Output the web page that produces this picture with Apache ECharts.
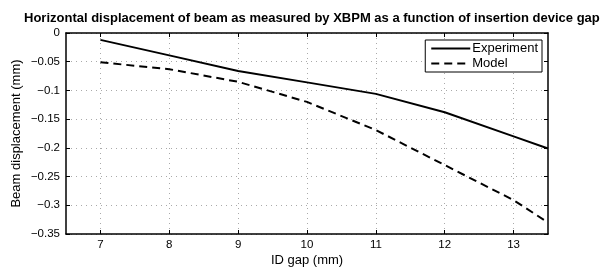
<!DOCTYPE html>
<html>
<head>
<meta charset="utf-8">
<script src="https://cdn.jsdelivr.net/npm/echarts@6/dist/echarts.min.js"></script>
<style>
  html, body { margin: 0; padding: 0; background: #fff; }
  #chart { width: 600px; height: 267px; }
</style>
</head>
<body>
<div id="chart"></div>
<script>
// data
var gaps = [7, 8, 9, 10, 11, 12, 13, 13.5];
var experiment = [-0.012, -0.039, -0.066, -0.086, -0.106, -0.138, -0.180, -0.201];
var model = [-0.051, -0.063, -0.085, -0.120, -0.169, -0.230, -0.291, -0.330];
var xTicks = [7, 8, 9, 10, 11, 12, 13];

var font = 'Liberation Sans, Arial, sans-serif';

function pairs(xs, ys) {
  var out = [];
  for (var i = 0; i < xs.length; i++) out.push([xs[i], ys[i]]);
  return out;
}

function fmtY(v) {
  var s = String(Math.round(v * 100) / 100);
  return s.replace('-', '\u2212');
}

var myChart = echarts.init(document.getElementById('chart'));

var xBase = {
  type: 'value',
  min: 6.5,
  max: 13.5,
  axisLine: { show: true, onZero: false, lineStyle: { color: '#000', width: 1.5 } },
  axisTick: { show: true, inside: true, length: 4, customValues: xTicks, lineStyle: { color: '#000' } },
  splitLine: { show: false }
};

var yBase = {
  type: 'value',
  min: -0.35,
  max: 0,
  interval: 0.05,
  axisLine: { show: true, onZero: false, lineStyle: { color: '#000', width: 1.5 } },
  axisTick: { show: true, inside: true, length: 4, lineStyle: { color: '#000' } },
  splitLine: { show: false }
};

var option = {
  animation: false,
  backgroundColor: '#fff',
  title: {
    text: 'Horizontal displacement of beam as measured by XBPM as a function of insertion device gap',
    left: 19,
    top: 7,
    textStyle: { fontFamily: font, fontSize: 13, fontWeight: 'bold', color: '#000' }
  },
  grid: { left: 66, right: 52, top: 33, bottom: 33, outerBoundsMode: 'none', containLabel: false },
  legend: {
    orient: 'vertical',
    right: 58,
    top: 40,
    itemWidth: 39,
    itemHeight: 13,
    itemGap: 2,
    padding: [2, 4, 2, 5],
    borderColor: '#000',
    borderWidth: 1,
    backgroundColor: '#fff',
    itemStyle: { opacity: 0 },
    textStyle: { fontFamily: font, fontSize: 13, color: '#000', padding: [0, 0, 0, -3] },
    data: ['Experiment', 'Model']
  },
  xAxis: [
    Object.assign({}, xBase, {
      position: 'bottom',
      name: 'ID gap (mm)',
      nameLocation: 'middle',
      nameGap: 20,
      nameMoveOverlap: false,
      nameTextStyle: { fontFamily: font, fontSize: 13, color: '#000' },
      axisLabel: { customValues: xTicks, margin: 5, fontFamily: font, fontSize: 11.5, color: '#000' },
      splitLine: { show: true, lineStyle: { color: '#aaa', type: [1, 4], width: 1 } }
    }),
    Object.assign({}, xBase, { position: 'top', axisLabel: { show: false } })
  ],
  yAxis: [
    Object.assign({}, yBase, {
      position: 'left',
      name: 'Beam displacement (mm)',
      nameLocation: 'middle',
      nameGap: 43,
      nameMoveOverlap: false,
      nameTextStyle: { fontFamily: font, fontSize: 13, color: '#000' },
      axisLabel: { margin: 6, fontFamily: font, fontSize: 11.5, color: '#000', formatter: fmtY },
      splitLine: { show: true, lineStyle: { color: '#aaa', type: [1, 4], width: 1 } }
    }),
    Object.assign({}, yBase, { position: 'right', axisLabel: { show: false } })
  ],
  series: [
    {
      name: 'Experiment',
      type: 'line',
      showSymbol: false,
      symbol: 'none',
      lineStyle: { color: '#000', width: 2 },
      itemStyle: { color: '#000' },
      data: pairs(gaps, experiment)
    },
    {
      name: 'Model',
      type: 'line',
      showSymbol: false,
      symbol: 'none',
      lineStyle: { color: '#000', width: 2, type: [8, 5] },
      itemStyle: { color: '#000' },
      data: pairs(gaps, model)
    }
  ]
};

myChart.setOption(option);
window.onresize = myChart.resize;
</script>
</body>
</html>
